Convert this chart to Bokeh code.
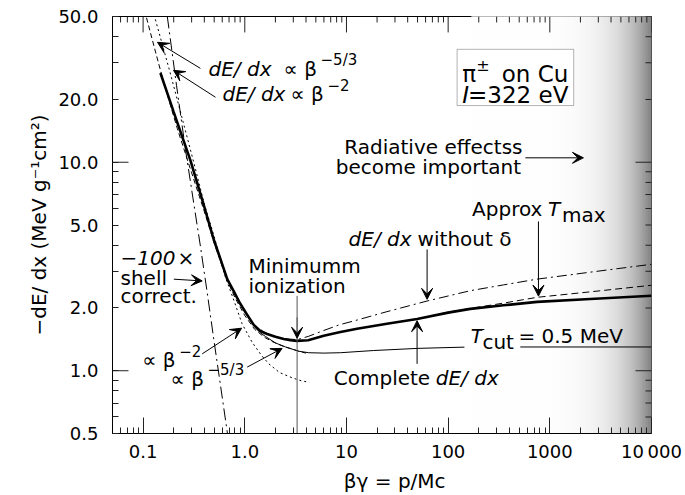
import numpy as np
from bokeh.plotting import figure
from bokeh.models import Range1d, FixedTicker, Label, Arrow, VeeHead, BoxAnnotation
from bokeh.embed import file_html
from bokeh.resources import INLINE

FONT = "DejaVu Sans"

# ---- stopping power of pions in copper (MeV g^-1 cm^2) vs beta*gamma ----
bg_complete = [0.148, 0.175, 0.20, 0.25, 0.292, 0.35, 0.40, 0.495, 0.58, 0.672, 0.78, 0.90,
               1.05, 1.225, 1.42, 1.66, 2.0, 2.42, 2.8, 3.27, 4.2, 5.98, 8.5, 12.7, 25, 49.5,
               100, 165, 350, 750, 2500, 10000]
dedx_complete = [26.8, 21.1, 17.4, 12.7, 10.2, 7.6, 6.1, 4.26, 3.40, 2.75, 2.40, 2.10,
                 1.86, 1.66, 1.55, 1.50, 1.455, 1.42, 1.40, 1.39, 1.40, 1.47, 1.53, 1.59, 1.68, 1.77,
                 1.90, 1.98, 2.06, 2.14, 2.21, 2.29]

bg_nodelta = [0.90, 1.225, 1.66, 2.42, 3.27, 4.2, 5.98, 8.5, 12.7, 25, 62.1, 165, 350, 750, 2500, 10000]
dedx_nodelta = [2.10, 1.66, 1.50, 1.425, 1.41, 1.46, 1.56, 1.66, 1.75, 1.92, 2.16, 2.42, 2.58, 2.75, 2.97, 3.24]

bg_tmax = [25, 49.5, 100, 165, 350, 750, 2500, 10000]
dedx_tmax = [1.68, 1.77, 1.91, 1.99, 2.11, 2.25, 2.39, 2.57]

bg_tcut = [0.90, 1.225, 1.42, 1.60, 2.0, 2.51, 3.4, 4.26, 6.0, 8.7, 18.5, 50, 165, 10000]
dedx_tcut = [2.09, 1.64, 1.52, 1.46, 1.36, 1.30, 1.24, 1.22, 1.215, 1.22, 1.25, 1.28, 1.30, 1.30]

bg_b53 = [0.108, 0.13, 0.16, 0.217, 0.30, 0.40, 0.50, 0.65, 0.80, 1.0, 1.25, 1.55, 1.86, 2.3, 2.92, 3.5, 4.0]
dedx_b53 = [49.3, 35.0, 24.0, 14.5, 8.9, 5.8, 4.1, 2.82, 2.24, 1.84, 1.58, 1.45, 1.38, 1.32, 1.27, 1.235, 1.215]

bg_b2 = [0.132, 0.184, 0.251, 0.327, 0.40, 0.50, 0.646, 0.78, 0.94, 1.18, 1.45, 1.72, 2.2, 2.92, 3.6, 4.3]
dedx_b2 = [48.4, 27.0, 15.2, 9.3, 6.3, 4.4, 2.8, 2.18, 1.68, 1.37, 1.19, 1.08, 0.98, 0.925, 0.895, 0.88]

bg_shell = [0.173, 0.213, 0.261, 0.309, 0.366, 0.427, 0.495, 0.577, 0.672, 0.74]
dedx_shell = [50, 23.4, 11.5, 6.74, 3.96, 2.37, 1.42, 0.85, 0.509, 0.36]

# ---- axes ----
X0, X1 = 0.05, 10000
Y0, Y1 = 0.5, 50
x_major = [0.1, 1, 10, 100, 1000, 10000]
x_major_labels = ["0.1", "1.0", "10", "100", "1000", "10\u2009000"]
y_major = [0.5, 1, 2, 5, 10, 20, 50]
y_major_labels = ["0.5", "1.0", "2.0", "5.0", "10.0", "20.0", "50.0"]
y_minor = [0.6, 0.7, 0.8, 0.9, 3, 4, 6, 7, 8, 9, 30, 40]
y_decades = [1, 10]
x_minor = [m * 10.0 ** e for e in range(-2, 4) for m in range(2, 10) if X0 < m * 10.0 ** e < X1]

# region where radiative losses take over
shade_start = 170

W, H = 685, 495
BL, BR, BT, BB = 112, 34, 16, 60
frame_w = W - BL - BR
frame_h = H - BT - BB

p = figure(width=W, height=H, x_axis_type="log", y_axis_type="log",
           x_range=Range1d(X0, X1), y_range=Range1d(Y0, Y1),
           output_backend="svg", toolbar_location=None,
           min_border_left=BL, min_border_right=BR, min_border_top=BT, min_border_bottom=BB)
p.xgrid.visible = False
p.ygrid.visible = False
p.outline_line_color = "black"
p.background_fill_color = "white"
p.border_fill_color = "white"

# grey fade toward the high-momentum edge
edges = np.geomspace(shade_start, X1, 121)
mids = np.sqrt(edges[:-1] * edges[1:])
t = np.log10(mids / shade_start) / np.log10(X1 / shade_start)
grey = (255 - 125 * t ** 6).astype(int)
cols = ["#%02x%02x%02x" % (g, g, g) for g in grey]
p.quad(left=edges[:-1], right=edges[1:], bottom=Y0, top=Y1, fill_color=cols, line_color=cols, line_width=1)

TICK = "#222222"


def style(ax, ticks, minor, labels, tick_len, standoff):
    ax.ticker = FixedTicker(ticks=ticks, minor_ticks=minor)
    ax.major_label_overrides = dict(zip(ticks, labels))
    ax.major_tick_in = tick_len
    ax.major_tick_out = 0
    ax.minor_tick_in = 6
    ax.minor_tick_out = 0
    ax.axis_line_color = "black"
    ax.major_tick_line_color = TICK
    ax.minor_tick_line_color = TICK
    ax.major_label_text_font = FONT
    ax.major_label_text_color = "black"
    ax.major_label_text_font_size = "18px"
    ax.major_label_standoff = standoff
    ax.axis_label_text_font = FONT
    ax.axis_label_text_font_size = "20px"
    ax.axis_label_text_font_style = "normal"
    ax.axis_label_text_color = "black"
    ax.axis_label_standoff = 4


xb = p.xaxis[0]
style(xb, x_major, x_minor, x_major_labels, 16, 7)
xb.axis_label = "\u00a0\u00a0\u00a0\u00a0βγ = p/Mc"

yl = p.yaxis[0]
style(yl, y_major, y_minor, y_major_labels, 6, 14)
yl.axis_label = "−dE/ dx (MeV g⁻¹cm²)"

# tick marks mirrored on the top and right frame edges, plus long y-decade ticks
kx = 10 ** (np.log10(X1 / X0) / frame_w)   # data factor per pixel, horizontally
ky = 10 ** (np.log10(Y1 / Y0) / frame_h)   # data factor per pixel, vertically


def vticks(xs, length):
    p.segment(x0=xs, x1=xs, y0=[Y1] * len(xs), y1=[Y1 / ky ** length] * len(xs), line_color=TICK, line_width=1)


def hticks(ys, length):
    p.segment(x0=[X1] * len(ys), x1=[X1 / kx ** length] * len(ys), y0=ys, y1=ys, line_color=TICK, line_width=1)


vticks(x_major, 16)
vticks(x_minor, 6)
hticks([y for y in y_major if y not in y_decades] + y_minor, 6)
hticks(y_decades, 16)
p.segment(x0=[X0] * 2, x1=[X0 * kx ** 16] * 2, y0=y_decades, y1=y_decades, line_color=TICK, line_width=1)

# ---- curves ----
p.line(bg_shell, dedx_shell, line_color="black", line_width=1, line_dash="12 4 2 4")
p.line(bg_b2, dedx_b2, line_color="black", line_width=1, line_dash="2 3")
p.line(bg_b53, dedx_b53, line_color="black", line_width=1, line_dash="5 3")
p.line(bg_tcut, dedx_tcut, line_color="black", line_width=1)
p.line(bg_nodelta, dedx_nodelta, line_color="black", line_width=1, line_dash="10 4 2 4")
p.line(bg_tmax, dedx_tmax, line_color="black", line_width=1, line_dash="7 4")
p.line(bg_complete, dedx_complete, line_color="black", line_width=2.6)

# minimum-ionization marker
i_min = int(np.argmin(dedx_complete))
bg_min = bg_complete[i_min]
p.segment(x0=[bg_min], x1=[bg_min], y0=[2.286], y1=[Y0], line_color="#555555", line_width=1)

LIFT = 6  # baseline correction for annotation text, px


def text(x, y, s, dx=0, dy=0, size=20, style="normal", align="left", bg=None):
    lab = Label(x=x, y=y, text=s, x_offset=dx, y_offset=dy + LIFT, text_font=FONT,
                text_font_size=f"{size}px", text_font_style=style, text_align=align,
                text_baseline="alphabetic", text_color="black")
    if bg is not None:
        lab.background_fill_color = bg
    p.add_layout(lab)


def arrow(x0, y0, x1, y1, color="black"):
    p.add_layout(Arrow(x_start=x0, y_start=y0, x_end=x1, y_end=y1, line_color=color, line_width=1,
                       end=VeeHead(size=11, fill_color="black", line_color="black", line_width=1)))


arrow(bg_min, 1.8, bg_min, 1.432, color="#555555")

# power-law guides, upper left
text(0.440, 26.2, "dE/ dx", style="italic")
text(0.440, 26.2, "∝ β", dx=75)
text(0.440, 26.2, "−5/3", dx=112, dy=9, size=15)
arrow(0.366, 28.2, 0.1385, 37.6)
text(0.603, 19.9, "dE/ dx", style="italic")
text(0.603, 19.9, "∝ β", dx=68)
text(0.603, 19.9, "−2", dx=105, dy=9, size=15)
arrow(0.515, 20.5, 0.199, 27.6)

# radiative region
text(71.6, 11.1, "Radiative effectss", align="center")
text(64, 8.9, "become important", align="center")
arrow(575, 10.5, 2140, 10.5)

# particle / material box
p.add_layout(BoxAnnotation(left=122.5, right=1718, bottom=18.7, top=34.8, fill_color="white",
                           fill_alpha=1, line_color="black", line_width=1))
text(137.3, 24.7, "π", size=23)
text(137.3, 24.7, "±", dx=14, dy=9, size=16)
text(1523, 24.7, "on Cu", size=23, align="right")
text(137.3, 19.65, "I", size=23, style="italic")
text(1523, 19.65, "=322 eV", size=23, align="right")

# high-energy branches
text(172, 5.61, "Approx")
text(172, 5.61, "T", dx=76, style="italic")
text(172, 5.61, "max", dx=90, dy=-6)
arrow(773, 5.2, 773, 2.28)
text(10.5, 3.99, "dE/ dx", style="italic")
text(10.5, 3.99, "without δ", dx=69)
arrow(62.1, 3.82, 62.1, 2.20)
text(165.6, 1.374, "\u00a0T", dx=-6, style="italic", bg="white")
text(165.6, 1.374, "cut\u00a0", dx=12, dy=-6, bg="white")
text(165.6, 1.374, "= 0.5 MeV", dx=48)
text(7.50, 0.866, "Complete")
text(7.50, 0.866, "dE/ dx", dx=102, style="italic")
arrow(49.5, 1.079, 49.5, 1.737)

# minimum ionization
text(1.087, 2.967, "Minimumm")
text(1.087, 2.381, "ionization")

# low-energy labels
text(0.0599, 3.24, "−100", style="italic")
text(0.0599, 3.24, "×", dx=57)
text(0.0599, 2.60, "shell")
text(0.0599, 2.127, "correct.")
arrow(0.2004, 2.748, 0.381, 2.696)
text(0.098, 1.056, "∝ β")
text(0.098, 1.056, "−2", dx=37, dy=9, size=15)
arrow(0.381, 1.205, 0.93, 1.60)
text(0.186, 0.850, "∝ β")
text(0.186, 0.850, "−5/3", dx=37, dy=9, size=15)
arrow(1.056, 1.041, 2.33, 1.28)

open("out.html", "w").write(file_html(p, INLINE))
